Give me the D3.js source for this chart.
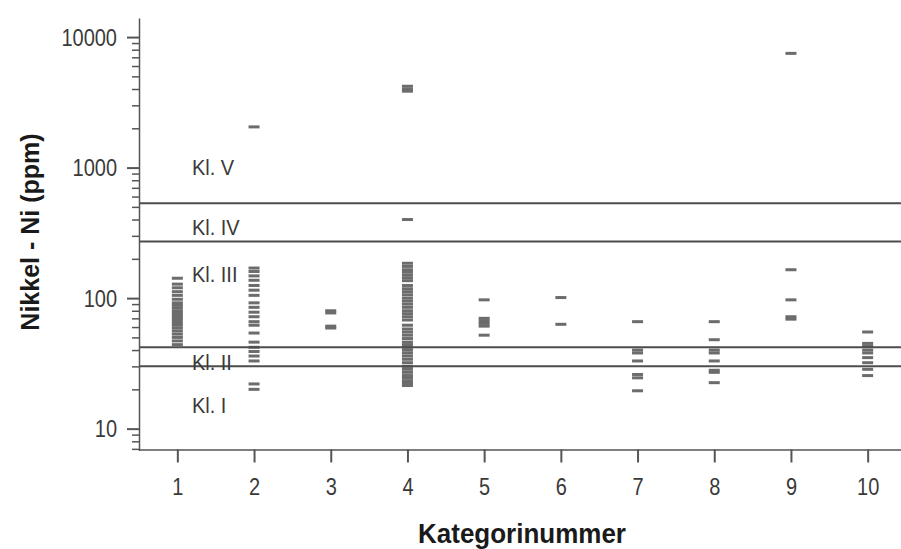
<!DOCTYPE html>
<html>
<head>
<meta charset="utf-8">
<script src="https://cdn.jsdelivr.net/npm/d3@7"></script>
<style>
    body { margin: 0; background: #fff; }
    svg { display: block; }
    text { font-family: 'Liberation Sans', Arial, sans-serif; }
</style>
</head>
<body>
<svg id="chart"></svg>
<script>
// Nickel values (ppm) per category
const ni1 = [142, 128, 120, 112, 105, 98, 92, 88, 84, 80, 77, 74, 71, 68, 65, 62, 59, 56, 53, 50, 47, 44]
const ni2 = [2050, 170, 160, 148, 137, 125, 115, 105, 92, 85, 78, 72, 66, 62, 54, 46, 42, 39, 36, 33, 22, 20]
const ni3 = [80, 77, 61, 59]
const ni4 = [4200, 4000, 3850, 400, 185, 175, 165, 158, 150, 143, 136,
    125, 118, 112, 106, 100, 95, 90, 85, 80, 76, 72, 68,
    62, 58, 55, 52, 49, 46, 44, 42, 40, 38, 36, 34, 32, 30, 28.5, 27, 25.5, 24.5, 23.3, 22.3, 21.4]
const ni5 = [97, 70, 67, 64, 61, 52]
const ni6 = [101, 63]
const ni7 = [66, 40, 38, 33, 26, 24.5, 19.5]
const ni8 = [66, 48, 40, 38, 33, 28, 27, 22.5]
const ni9 = [7500, 165, 97, 72, 69]
const ni10 = [55, 45, 43, 40, 38, 35, 32, 28.5, 25.5]

const categories = [1, 2, 3, 4, 5, 6, 7, 8, 9, 10]
const seriesByCategory = [ni1, ni2, ni3, ni4, ni5, ni6, ni7, ni8, ni9, ni10]

// class limits (ppm) and class labels
const classLimits = [30, 42, 271, 533]
const classLabels = ['Kl. I', 'Kl. II', 'Kl. III', 'Kl. IV', 'Kl. V']
const classLabelAt = [15, 32, 150, 345, 1000]

const majorTicks = [10, 100, 1000, 10000]

const width = 901
const height = 549

const svg = d3.select('#chart')
    .attr('width', width)
    .attr('height', height)

const x = d3.scaleLinear().domain([0.5, 10.5]).range([139, 906])
const y = d3.scaleLog().domain([6.8, 14000]).range([450.5, 18])

const points = []
categories.forEach((k, i) => {
    seriesByCategory[i].forEach(v => points.push({ kat: k, value: v }))
})

const axisColor = '#555'

// data dashes
svg.append('g')
    .selectAll('rect')
    .data(points)
    .enter()
    .append('rect')
    .attr('x', d => x(d.kat) - 5.5)
    .attr('y', d => y(d.value) - 1.5)
    .attr('width', 11)
    .attr('height', 3)
    .style('fill', '#6c6c6c')

// class limit lines
svg.append('g')
    .selectAll('line')
    .data(classLimits)
    .enter()
    .append('line')
    .attr('x1', x(0.5))
    .attr('x2', width)
    .attr('y1', d => y(d))
    .attr('y2', d => y(d))
    .style('stroke', '#4d4d4d')
    .style('stroke-width', 2)

// class labels
svg.append('g')
    .selectAll('text')
    .data(classLabels)
    .enter()
    .append('text')
    .attr('transform', (d, i) => 'translate(' + x(1.19) + ',' + (y(classLabelAt[i]) + 7) + ') scale(1,1.12)')
    .style('font-size', '20px')
    .style('fill', '#3a3a3a')
    .text(d => d)

// y axis: minor ticks
const minorTicks = y.ticks().filter(t => majorTicks.indexOf(t) < 0)

svg.append('g')
    .attr('transform', 'translate(139,0)')
    .call(d3.axisLeft(y).tickValues(minorTicks).tickSize(7).tickFormat(''))
    .call(g => g.select('.domain').remove())
    .selectAll('line')
    .style('stroke', axisColor)
    .style('stroke-width', 1.5)

// y axis: major ticks and line
const yAxis = svg.append('g')
    .attr('transform', 'translate(139,0)')
    .call(d3.axisLeft(y).tickValues(majorTicks).tickSize(12).tickSizeOuter(0).tickFormat(d3.format('d')))

yAxis.select('.domain').style('stroke', axisColor).style('stroke-width', 1.5)
yAxis.selectAll('.tick line').style('stroke', axisColor).style('stroke-width', 2)
yAxis.selectAll('.tick text')
    .attr('x', null)
    .attr('dy', null)
    .attr('transform', 'translate(-22,8) scale(1,1.15)')
    .style('font-size', '20px')
    .style('fill', '#3a3a3a')

// x axis
const xAxis = svg.append('g')
    .attr('transform', 'translate(0,449.5)')
    .call(d3.axisBottom(x).tickValues(categories).tickSize(13).tickSizeOuter(0).tickFormat(d3.format('d')))

xAxis.select('.domain').style('stroke', axisColor).style('stroke-width', 1.5)
xAxis.selectAll('.tick line').style('stroke', axisColor).style('stroke-width', 2)
xAxis.selectAll('.tick text')
    .attr('y', null)
    .attr('dy', null)
    .attr('transform', 'translate(0,45) scale(1,1.15)')
    .style('font-size', '20px')
    .style('fill', '#3a3a3a')

// axis titles
svg.append('text')
    .attr('transform', 'translate(522,543) scale(1,1.08)')
    .attr('text-anchor', 'middle')
    .style('font-size', '26px')
    .style('font-weight', 'bold')
    .style('fill', '#1a1a1a')
    .text('Kategorinummer')

svg.append('text')
    .attr('transform', 'translate(39,232) rotate(-90)')
    .attr('text-anchor', 'middle')
    .style('font-size', '25px')
    .style('font-weight', 'bold')
    .style('fill', '#1a1a1a')
    .text('Nikkel - Ni (ppm)')
</script>
</body>
</html>
